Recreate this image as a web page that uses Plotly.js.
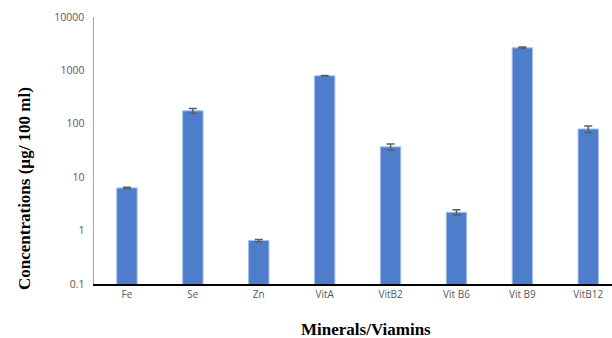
<!DOCTYPE html>
<html><head><meta charset="utf-8">
<script src="https://cdn.plot.ly/plotly-3.0.1.min.js"></script>
<style>html,body{margin:0;padding:0;background:#fff}#c{width:612px;height:338px}</style>
</head><body><div id="c"></div>
<script>
const categories = ["Fe","Se","Zn","VitA","VitB2","Vit B6","Vit B9","VitB12"];
const values = [6.3, 175, 0.65, 790, 37, 2.2, 2650, 80];
const errors = [0.15, 18, 0.03, 15, 5, 0.25, 80, 11];
const yTickVals = [0.1, 1, 10, 100, 1000, 10000];
const yTickText = ["0.1","1","10","100","1000","10000"];

const trace = {
  type: "bar", x: categories, y: values, width: 0.31,
  marker: {color: "#4e7ecb", line: {color: "#a9c0e6", width: 1}},
  error_y: {type: "data", array: errors, visible: true, color: "#5f5f5f", thickness: 1.5, width: 4}
};
const layout = {
  width: 612, height: 338,
  margin: {l: 94, r: 0, t: 17, b: 54},
  paper_bgcolor: "#fff", plot_bgcolor: "#fff",
  showlegend: false,
  bargap: 0,
  xaxis: {
    range: [-0.5, 7.36], showgrid: false, zeroline: false,
    showline: true, linecolor: "#000", linewidth: 1.5,
    ticks: "", tickfont: {family: "Open Sans, Liberation Sans, sans-serif", size: 10, color: "#595959"}
  },
  yaxis: {
    type: "log", range: [-1, 4], showgrid: false, zeroline: false,
    showline: true, linecolor: "#a6a6a6", linewidth: 1.5,
    ticks: "", tickvals: yTickVals, ticktext: yTickText, ticklabelstandoff: 6,
    tickfont: {family: "Open Sans, Liberation Sans, sans-serif", size: 10.5, color: "#595959"}
  },
  annotations: [
    {text: "<b>Concentrations (µg/ 100 ml)</b>", textangle: -90, xref: "paper", yref: "paper",
     x: (24 - 94) / 518, y: (284 - 189) / 267, xanchor: "center", yanchor: "middle", showarrow: false,
     font: {family: "Liberation Serif, Times New Roman, serif", size: 17, color: "#000"}},
    {text: "<b>Minerals/Viamins</b>", xref: "paper", yref: "paper",
     x: (366 - 94) / 518, y: -(329 - 284) / 267, xanchor: "center", yanchor: "middle", showarrow: false,
     font: {family: "Liberation Serif, Times New Roman, serif", size: 17, color: "#000"}}
  ]
};
Plotly.newPlot("c", [trace], layout, {staticPlot: true, displayModeBar: false});
</script></body></html>
